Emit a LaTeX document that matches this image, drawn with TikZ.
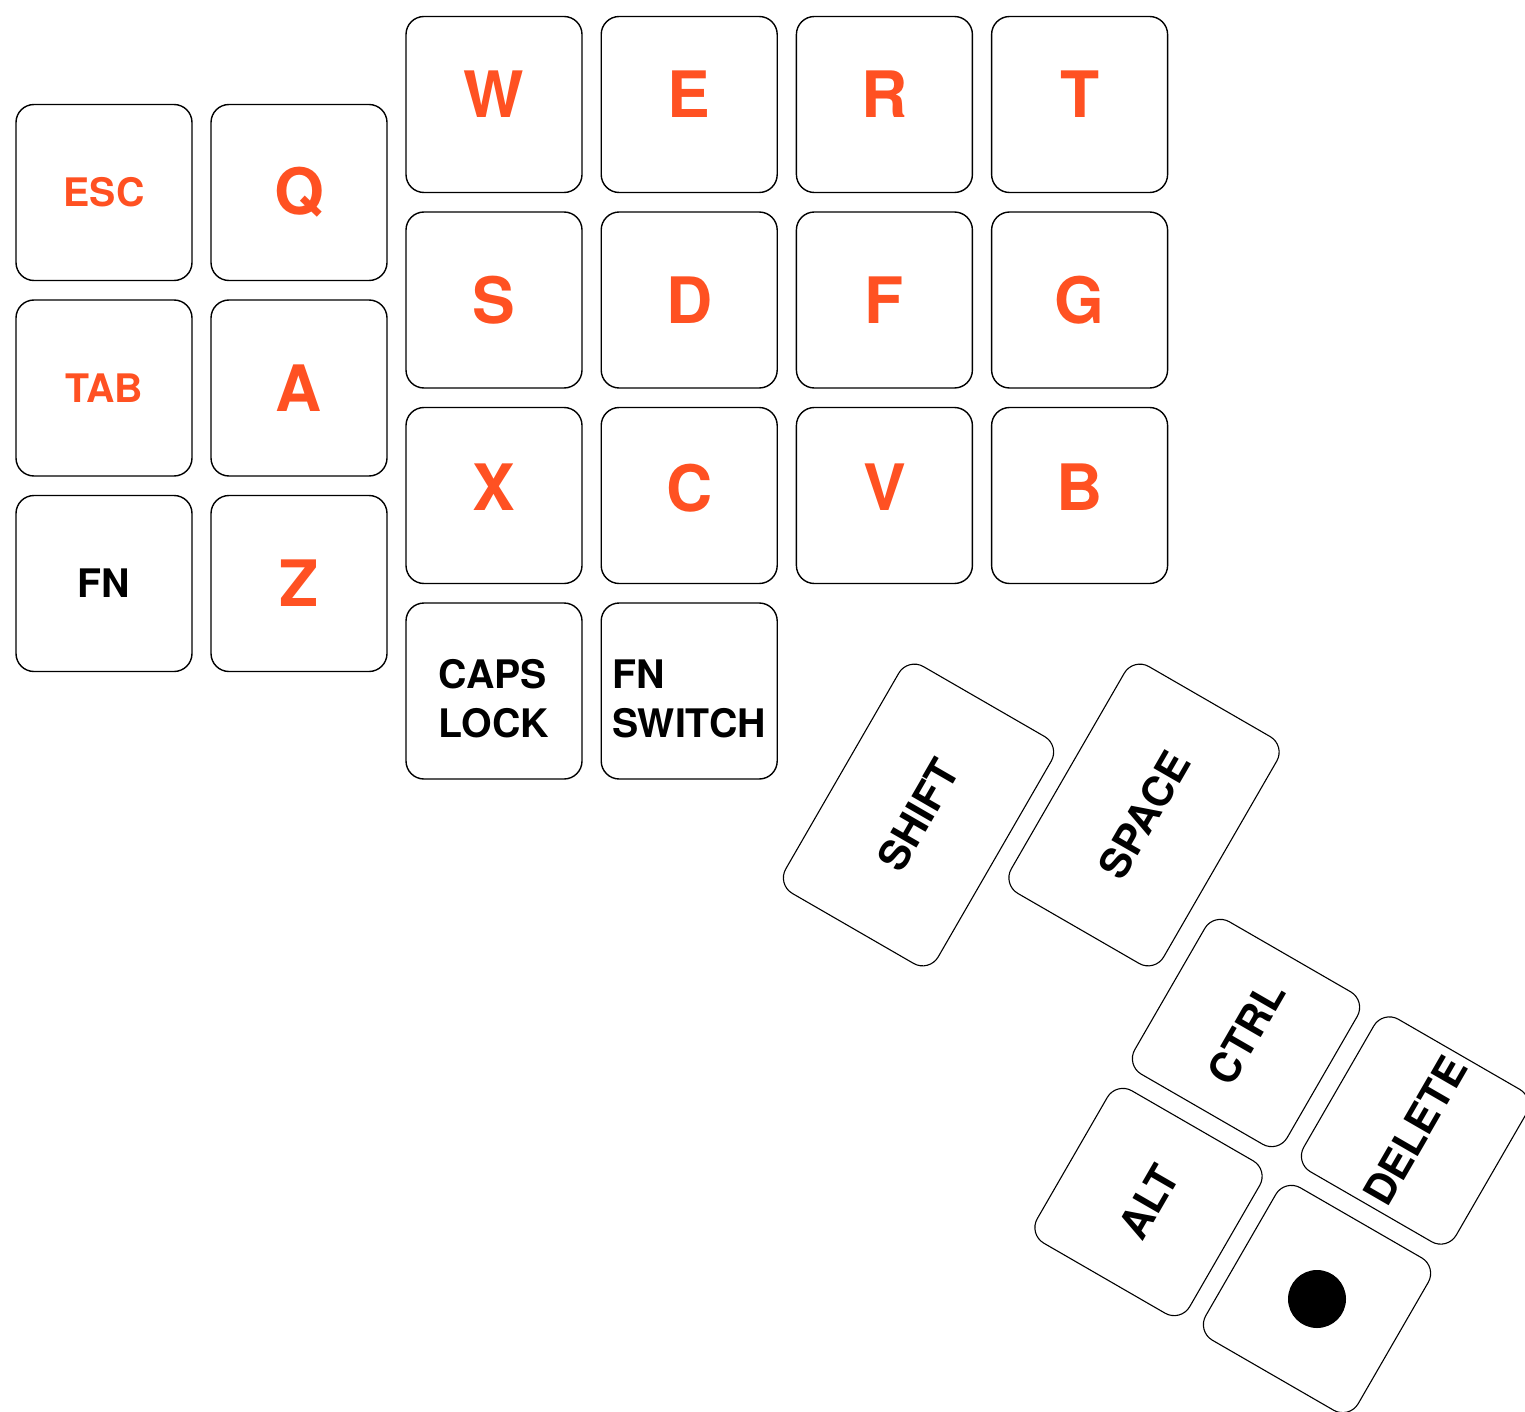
\documentclass[tikz,border=0pt]{standalone}
\usepackage{fontspec}
\setmainfont{TeX Gyre Heros}
\definecolor{keyorange}{RGB}{255,81,34}
\begin{document}
\begin{tikzpicture}[x=1pt,y=-1pt,
  key/.style={draw, line width=1.4pt, rounded corners=18pt, minimum width=176pt,
    minimum height=176pt, inner sep=0pt, text=keyorange,
    font=\bfseries\fontsize{64}{77}\selectfont},
  smallkey/.style={key, font=\bfseries\fontsize{39.3}{49}\selectfont},
  blackkey/.style={smallkey, text=black},
  toprow/.style={text depth=20pt},
  xrow/.style={text depth=16pt},
  twoline/.style={blackkey, align=left, text height=93pt},
  thumb/.style={draw, line width=1.1pt, rounded corners=18pt, minimum width=176pt,
    minimum height=176pt, inner sep=0pt, rotate=60, text=black,
    font=\bfseries\fontsize{41.5}{50}\selectfont},
  widethumb/.style={thumb, minimum width=262pt}
]
\useasboundingbox (0,0) rectangle (1525,1412);
% left columns
\node[smallkey] (esc) at (104,192.5) {ESC};
\node[key]      (q)   at (299,192.5) {Q};
\node[smallkey] (tab) at (104,388) {TAB};
\node[key]      (a)   at (299,388) {A};
\node[blackkey] (fn)  at (104,583.5) {FN};
\node[key]      (z)   at (299,583.5) {Z};
% top row
\node[key,toprow] (w) at (494,104.5) {W};
\node[key,toprow] (e) at (689.2,104.5) {E};
\node[key,toprow] (r) at (884.4,104.5) {R};
\node[key,toprow] (t) at (1079.6,104.5) {T};
% home row
\node[key] (s) at (494,300) {S};
\node[key] (d) at (689.2,300) {D};
\node[key] (f) at (884.4,300) {F};
\node[key] (g) at (1079.6,300) {G};
% bottom row
\node[key,xrow] (x) at (494,495.5) {X};
\node[key,xrow] (c) at (689.2,495.5) {C};
\node[key,xrow] (v) at (884.4,495.5) {V};
\node[key,xrow] (b) at (1079.6,495.5) {B};
% two-line keys
\node[twoline] (caps) at (494,691) {CAPS\\LOCK};
\node[twoline] (fnsw) at (689.2,691) {FN\\SWITCH};
% thumb cluster
\node[widethumb] (shift) at (918.5,815) {SHIFT};
\node[widethumb] (space) at (1144,815) {SPACE};
\node[thumb] (ctrl)   at (1246,1033) {CTRL};
\node[thumb] (delete) at (1415,1130.5) {DELETE};
\node[thumb] (alt)    at (1148.5,1202) {ALT};
\node[thumb] (dotkey) at (1317,1299) {};
\node[circle, fill=black, draw=none, minimum size=58pt, inner sep=0pt] (dot) at (dotkey.center) {};
\end{tikzpicture}
\end{document}
